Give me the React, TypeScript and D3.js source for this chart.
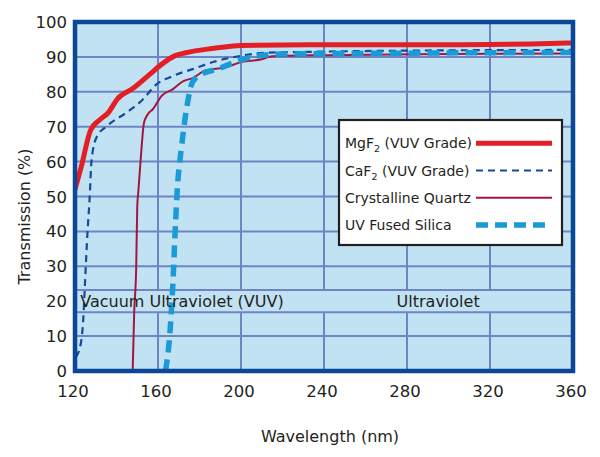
import React from 'react';
import * as d3 from 'd3';

// wavelength (nm) / transmission (%)
const mgf2Wl = [120, 123, 127.5, 132, 136, 140.5, 148, 156, 162, 168, 173.5, 186, 200, 240, 300, 340, 360];
const mgf2T = [52, 58.5, 69, 72, 74, 78, 81, 85, 88, 90.3, 91.2, 92.4, 93.3, 93.5, 93.5, 93.7, 94];

const caf2Wl = [120.5, 123, 124, 124.8, 126, 127, 128, 130.4, 135, 144.7, 152.7, 159, 167, 176.7, 188, 200, 212, 228, 280, 360];
const caf2T = [4, 8.6, 15, 25, 39.5, 49, 60.5, 67, 70, 74, 77.8, 82, 84.5, 86.5, 88.8, 90.3, 91.2, 91.4, 91.8, 92];

const quartzWl = [147.8, 148.5, 149.5, 150, 150.6, 152, 153.2, 155, 157.5, 162, 167, 172, 177, 183, 192.6, 200, 210, 215, 240, 300, 360];
const quartzT = [0, 16.4, 29.8, 47, 52, 63.4, 71, 73.5, 75, 79, 80.7, 83, 84, 86.2, 87, 88.5, 89.3, 90.2, 90.5, 90.8, 91];

const silicaWl = [163.6, 165.7, 167, 168.5, 169.2, 171.5, 174, 176.5, 180.7, 188.7, 196.6, 208, 220, 260, 320, 360];
const silicaT = [0, 10.6, 23, 43, 51, 65, 76, 82.6, 85, 86.5, 88.4, 90.3, 90.8, 91, 91.2, 91.3];

const xTicks = [120, 160, 200, 240, 280, 320, 360];
const yTicks = [0, 10, 20, 30, 40, 50, 60, 70, 80, 90, 100];

const bandT = [16.8, 23.2];
const regionNames = ['Vacuum Ultraviolet (VUV)', 'Ultraviolet'];
const regionWl = [122.5, 295];

const series = [
  { name: 'MgF', sub: '2', rest: ' (VUV Grade)', wl: mgf2Wl, t: mgf2T, color: '#e31e24', width: 5, dash: null },
  { name: 'CaF', sub: '2', rest: ' (VUV Grade)', wl: caf2Wl, t: caf2T, color: '#174a98', width: 2.2, dash: '7,5' },
  { name: 'Crystalline Quartz', sub: '', rest: '', wl: quartzWl, t: quartzT, color: '#a3173f', width: 2, dash: null },
  { name: 'UV Fused Silica', sub: '', rest: '', wl: silicaWl, t: silicaT, color: '#1a9ad6', width: 5.5, dash: '12,7' },
];

const W = 600;
const H = 457;
const margin = { top: 22, right: 27, bottom: 86, left: 75 };
const font = '"DejaVu Sans", sans-serif';

export default function App() {
  const x = d3.scaleLinear().domain([120, 360]).range([margin.left, W - margin.right]);
  const y = d3.scaleLinear().domain([0, 100]).range([H - margin.bottom, margin.top]);
  const [x0, x1] = x.range();
  const [y0, y1] = y.range();

  const line = d3.line<[number, number]>()
    .x(d => x(d[0]))
    .y(d => y(d[1]))
    .curve(d3.curveMonotoneX);

  const bandTop = y(bandT[1]);
  const bandBot = y(bandT[0]);
  const grid = '#6f85c3';

  const legX = 339;
  const legY = 120;
  const rowH = 27.2;

  return (
    <svg width={W} height={H} style={{ position: 'absolute', left: 0, top: 0, background: '#fff' }}>
      <defs>
        <clipPath id="plot">
          <rect x={x0} y={y1} width={x1 - x0} height={y0 - y1} />
        </clipPath>
      </defs>
      <rect x={x0} y={y1} width={x1 - x0} height={y0 - y1} fill="#c1e2f3" />

      {/* grid */}
      {xTicks.slice(1, -1).map(t => (
        <line key={'vx' + t} x1={x(t)} x2={x(t)} y1={y1} y2={y0} stroke={grid} strokeWidth={2} />
      ))}
      {yTicks.slice(1, -1).map(t => (
        <line key={'hy' + t} x1={x0} x2={x1} y1={y(t)} y2={y(t)} stroke={grid} strokeWidth={2} />
      ))}
      {/* region label band */}
      <rect x={x0} y={bandTop} width={x1 - x0} height={bandBot - bandTop} fill="#c1e2f3" />
      <line x1={x0} x2={x1} y1={bandTop} y2={bandTop} stroke={grid} strokeWidth={2} />
      <line x1={x0} x2={x1} y1={bandBot} y2={bandBot} stroke={grid} strokeWidth={2} />

      <g clipPath="url(#plot)">
        {series.map(s => (
          <path
            key={s.name}
            d={line(s.wl.map((w, i) => [w, s.t[i]] as [number, number])) || ''}
            fill="none"
            stroke={s.color}
            strokeWidth={s.width}
            strokeDasharray={s.dash || undefined}
            strokeLinejoin="round"
          />
        ))}
      </g>

      {regionNames.map((r, i) => (
        <text key={r} x={x(regionWl[i])} y={(bandTop + bandBot) / 2 + 6} fontFamily={font} fontSize={16}
          fill="#231f20" textAnchor={i === 0 ? 'start' : 'middle'}>{r}</text>
      ))}

      {/* frame */}
      <rect x={x0} y={y1} width={x1 - x0} height={y0 - y1} fill="none" stroke="#0b4797" strokeWidth={4.5} />

      {/* ticks */}
      {xTicks.map(t => (
        <text key={'xt' + t} x={x(t) - 2} y={y0 + 26} textAnchor="middle" fontFamily={font} fontSize={16.5} fill="#231f20">{t}</text>
      ))}
      {yTicks.map(t => (
        <text key={'yt' + t} x={x0 - 8} y={y(t) + 6} textAnchor="end" fontFamily={font} fontSize={16.5} fill="#231f20">{t}</text>
      ))}

      <text transform={`translate(30, ${(y0 + y1) / 2 + 20}) rotate(-90)`} textAnchor="middle" fontFamily={font} fontSize={16} fill="#231f20">
        Transmission (%)
      </text>
      <text x={(x0 + x1) / 2 + 6} y={442} textAnchor="middle" fontFamily={font} fontSize={16} fill="#231f20">
        Wavelength (nm)
      </text>

      {/* legend */}
      <rect x={legX} y={legY} width={223} height={125} fill="#fff" stroke="#231f20" strokeWidth={2.2} />
      {series.map((s, i) => {
        const by = legY + 28.3 + i * rowH;
        return (
          <g key={'lg' + s.name}>
            <text x={legX + 6} y={by} fontFamily={font} fontSize={14} fill="#231f20">
              {s.name}
              {s.sub && <tspan fontSize={9.5} dy={4}>{s.sub}</tspan>}
              {s.rest && <tspan dy={s.sub ? -4 : 0}>{s.rest}</tspan>}
            </text>
            <line x1={legX + 137} x2={legX + (i === 3 ? 208 : 213)} y1={by - 5} y2={by - 5}
              stroke={s.color} strokeWidth={s.width} strokeDasharray={s.dash || undefined} />
          </g>
        );
      })}
    </svg>
  );
}
